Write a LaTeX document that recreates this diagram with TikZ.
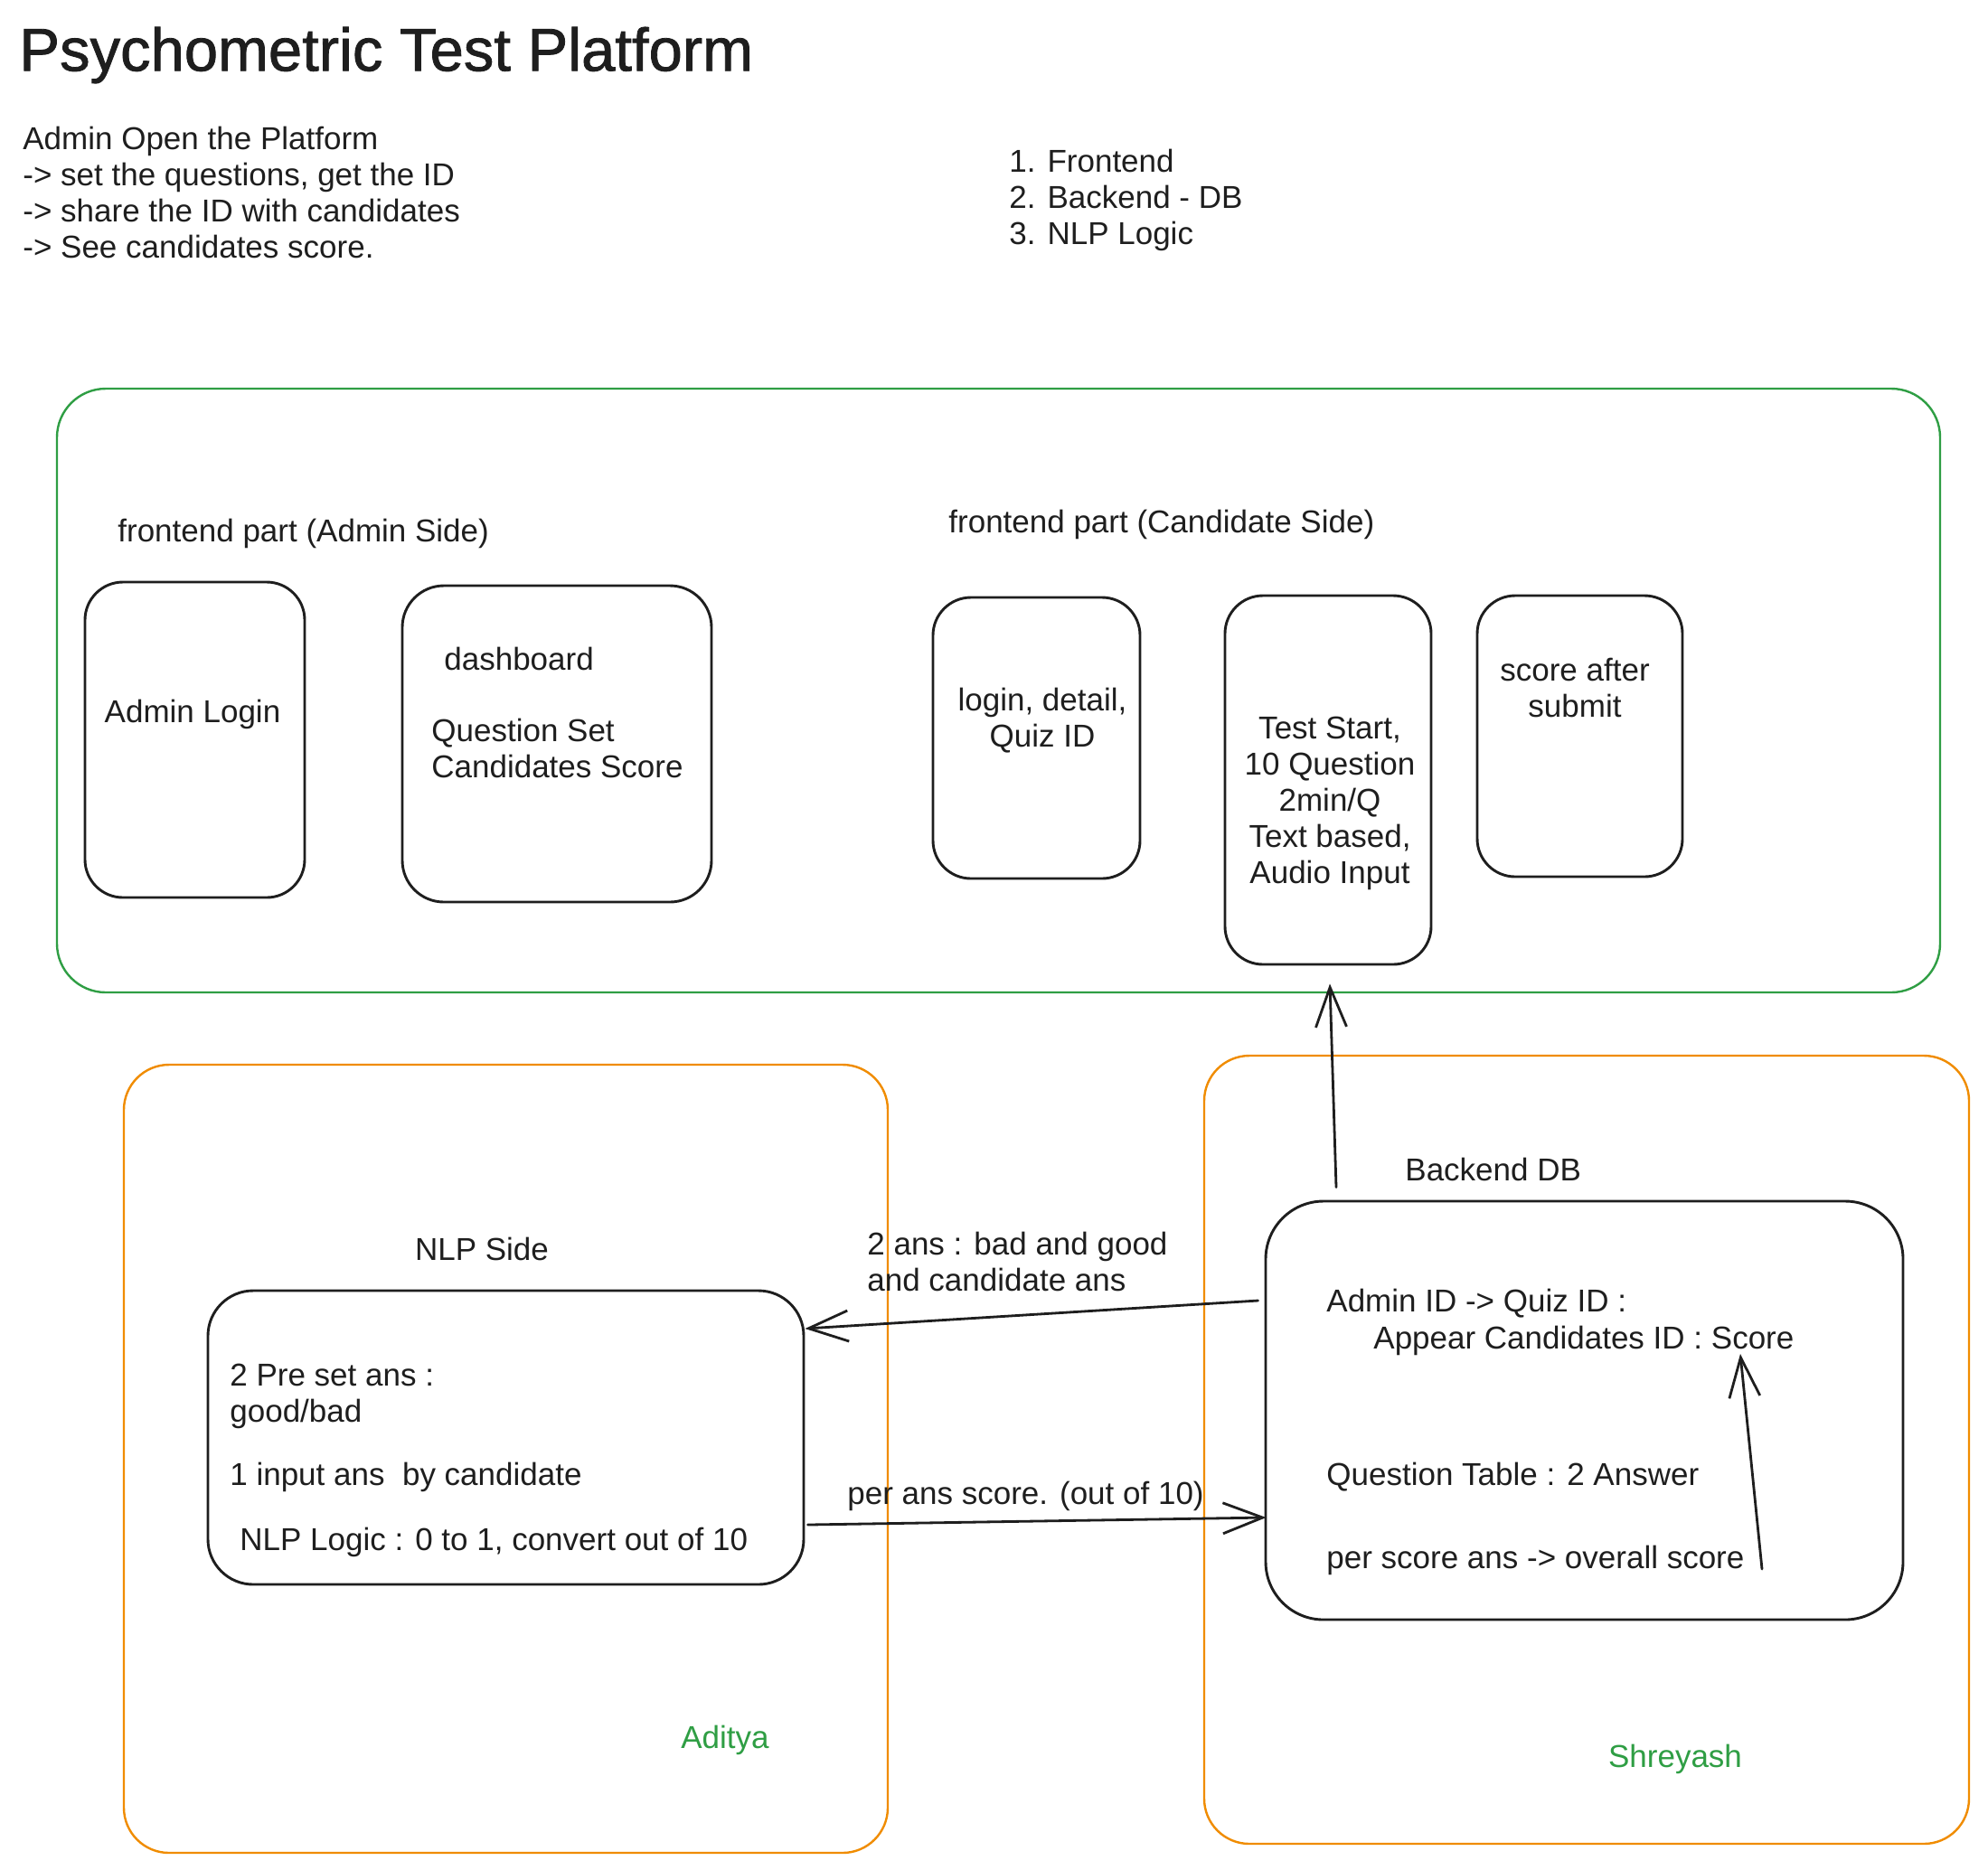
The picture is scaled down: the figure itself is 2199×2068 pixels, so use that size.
\documentclass[tikz,border=0pt]{standalone}
\usepackage{fontspec}
\setmainfont{Liberation Sans}
\newfontfamily\titlefont{Liberation Sans}[FakeBold=1.2]
\usetikzlibrary{arrows.meta,fit,calc}
\definecolor{exgreen}{HTML}{2F9E44}
\definecolor{exorange}{HTML}{F08C00}
\definecolor{ink}{HTML}{1E1E1E}
\begin{document}
\begin{tikzpicture}[x=0.5pt,y=-0.5pt,
  txt/.style={inner sep=0pt, font=\fontsize{17.5}{20}\selectfont, text=ink, align=left},
  ctxt/.style={txt, align=center},
  box/.style={draw=ink, line width=1.45pt, rounded corners=#1, inner sep=0pt},
  box/.default=21pt,
  frame/.style={draw=#1, line width=1.2pt, rounded corners=27pt, inner sep=0pt},
  arr/.style={draw=ink, line width=1.4pt, line cap=round,
    -{Straight Barb[length=22pt,width=17pt,line width=1.4pt]}}]
\fill[white] (0,0) rectangle (2199,2068);
\useasboundingbox (0,0) rectangle (2199,2068);

% title and notes
\node[txt, anchor=west, font=\titlefont\fontsize{33.5}{40}\selectfont] (title) at (21,61) {Psychometric Test Platform};
\node[txt, anchor=west] (notes) at (25,213) {Admin Open the Platform\\-> set the questions, get the ID\\-> share the ID with candidates\\-> See candidates score.};
\node[txt, anchor=west] (parts) at (1116,221) {1. Frontend\\2. Backend - DB\\3. NLP Logic};

% frames
\node[frame=exgreen, fit={(63,430) (2146,1098)}] (front) {};
\node[frame=exorange, rounded corners=25pt, fit={(137,1178) (982,2050)}] (nlpframe) {};
\node[frame=exorange, rounded corners=25pt, fit={(1332,1168) (2178,2040)}] (beframe) {};

% frontend labels
\node[txt, anchor=west] (fadmin) at (130,590) {frontend part (Admin Side)};
\node[txt, anchor=west] (fcand) at (1049,580) {frontend part (Candidate Side)};

% frontend boxes
\node[box, fit={(94,644) (337,993)}] (login) {};
\node[ctxt] (logint) at (213,790) {Admin Login};
\node[box=23pt, fit={(445,648) (787,998)}] (dash) {};
\node[txt, anchor=west] (dasht) at (491,729) {dashboard};
\node[txt, anchor=west] (dasht2) at (477,828) {Question Set\\Candidates Score};
\node[box, fit={(1032,661) (1261,972)}] (clogin) {};
\node[ctxt] (clogint) at (1153,797) {login, detail,\\Quiz ID};
\node[box, fit={(1355,659) (1583,1067)}] (test) {};
\node[ctxt] (testt) at (1471,889) {Test Start,\\10 Question\\2min/Q\\Text based,\\Audio Input};
\node[box, fit={(1634,659) (1861,970)}] (score) {};
\node[ctxt] (scoret) at (1742,761) {score after\\submit};

% NLP side
\node[txt] (nlplabel) at (533,1382) {NLP Side};
\node[box=25pt, fit={(230,1428) (889,1753)}] (nlp) {};
\node[txt, anchor=west] (nlpt1) at (254,1545) {2 Pre set ans :\\good/bad};
\node[txt, anchor=west] (nlpt2) at (254,1634) {1 input ans\ \ by candidate};
\node[txt, anchor=west] (nlpt3) at (265,1706) {NLP Logic : 0 to 1, convert out of 10};
\node[txt, text=exgreen] (aditya) at (802,1925) {Aditya};

% Backend side
\node[txt, anchor=west] (belabel) at (1554,1294) {Backend DB};
\node[box=32pt, fit={(1400,1329) (2105,1792)}] (backend) {};
\node[txt, anchor=west] (bet1) at (1467,1442) {Admin ID -> Quiz ID :};
\node[txt, anchor=west] (bet2) at (1519,1483) {Appear Candidates ID : Score};
\node[txt, anchor=west] (bet3) at (1467,1634) {Question Table : 2 Answer};
\node[txt, anchor=west] (bet4) at (1467,1726) {per score ans -> overall score};
\node[txt, text=exgreen] (shreyash) at (1853,1946) {Shreyash};

% connectors
\draw[arr] ($(backend.north)+(-274.5,-14)$) -- ($(test.south)+(2,20)$);
\draw[arr] ($(backend.west)+(-7,-121.5)$) -- ($(nlp.east)+(0,-120.5)$);
\draw[arr] ($(nlp.east)+(3,96.5)$) -- ($(backend.west)+(2,118.5)$);
\draw[arr] ($(backend.center)+(196.5,175.5)$) -- ($(backend.center)+(172.5,-62.5)$);

% connector labels
\node[txt, anchor=west] (l2) at (959,1396) {2 ans : bad and good\\and candidate ans};
\node[txt, anchor=west] (l3) at (937,1655) {per ans score. (out of 10)};
\end{tikzpicture}
\end{document}
